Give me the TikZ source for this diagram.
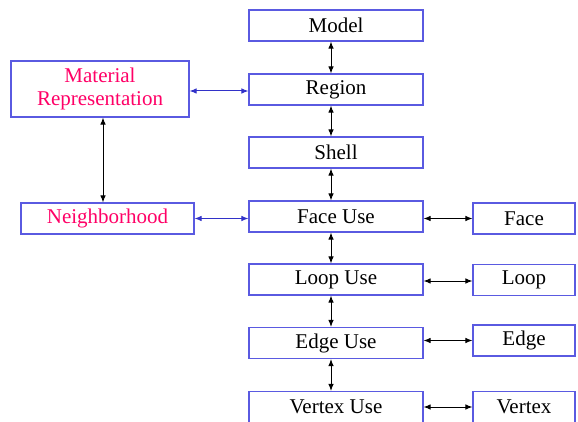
\documentclass[tikz,border=0pt]{standalone}
\usepackage{fontspec}
\setmainfont{Liberation Serif}
\usetikzlibrary{arrows.meta}
\definecolor{boxblue}{RGB}{90,90,225}
\definecolor{arrblue}{RGB}{50,50,200}
\definecolor{pinktext}{RGB}{255,0,102}
\tikzset{
  mainbox/.style={draw=boxblue, line width=1.1pt, minimum width=174pt, minimum height=31pt, inner sep=0pt, font=\fontsize{21}{24}\selectfont},
  sidebox/.style={draw=boxblue, line width=1.1pt, minimum width=102pt, minimum height=31pt, inner sep=0pt, font=\fontsize{21}{24}\selectfont},
  pinkbox/.style={draw=boxblue, line width=1.1pt, inner sep=0pt, text=pinktext, align=center, font=\fontsize{21}{23}\selectfont},
  blk/.style={draw=black, line width=1pt, {Latex[length=7pt,width=5.5pt]}-{Latex[length=7pt,width=5.5pt]}},
  blu/.style={draw=arrblue, line width=1pt, {Latex[length=7pt,width=5.5pt]}-{Latex[length=7pt,width=5.5pt]}},
}
\begin{document}
\begin{tikzpicture}[x=1pt,y=-1pt]
\useasboundingbox (0,0) rectangle (578,422);
\node[mainbox] (model) at (336,25.5) {Model};
\node[mainbox] (region) at (336,89.5) {Region};
\node[mainbox] (shell) at (336,152.5) {Shell};
\node[mainbox] (faceuse) at (336,216.5) {Face Use};
\node[mainbox] (loopuse) at (336,279.5) {Loop Use};
\node[mainbox] (edgeuse) at (336,343) {Edge Use};
\node[mainbox] (vertexuse) at (336,407) {Vertex Use};
\node[sidebox] (face) at (524,218.5) {Face};
\node[sidebox] (loop) at (524,280) {Loop};
\node[sidebox] (edge) at (524,340.5) {Edge};
\node[sidebox] (vertex) at (524,407) {Vertex};
\node[pinkbox, minimum width=178pt, minimum height=56pt] (mat) at (100,89) {Material\\Representation};
\node[pinkbox, minimum width=173pt, minimum height=31pt] (nbh) at (107.5,218.5) {Neighborhood};
% vertical main column
\draw[blk] ([xshift=-5pt]model.south) -- ([xshift=-5pt]region.north);
\draw[blk] ([xshift=-5pt]region.south) -- ([xshift=-5pt]shell.north);
\draw[blk] ([xshift=-5pt]shell.south) -- ([xshift=-5pt]faceuse.north);
\draw[blk] ([xshift=-5pt]faceuse.south) -- ([xshift=-5pt]loopuse.north);
\draw[blk] ([xshift=-5pt]loopuse.south) -- ([xshift=-5pt]edgeuse.north);
\draw[blk] ([xshift=-5pt]edgeuse.south) -- ([xshift=-5pt]vertexuse.north);
% right side
\draw[blk] (face.west -| faceuse.east) -- (face.west);
\draw[blk] ([yshift=-1pt]loop.west -| loopuse.east) -- ([yshift=-1pt]loop.west);
\draw[blk] (edge.west -| edgeuse.east) -- (edge.west);
\draw[blk] (vertex.west -| vertexuse.east) -- (vertex.west);
% left side
\draw[blu] ([yshift=-2pt]mat.east) -- ([yshift=-2pt]mat.east -| region.west);
\draw[blu] (nbh.east) -- (nbh.east -| faceuse.west);
\draw[blk] ([xshift=3pt]mat.south) -- ([xshift=3pt]mat.south |- nbh.north);
\end{tikzpicture}
\end{document}
